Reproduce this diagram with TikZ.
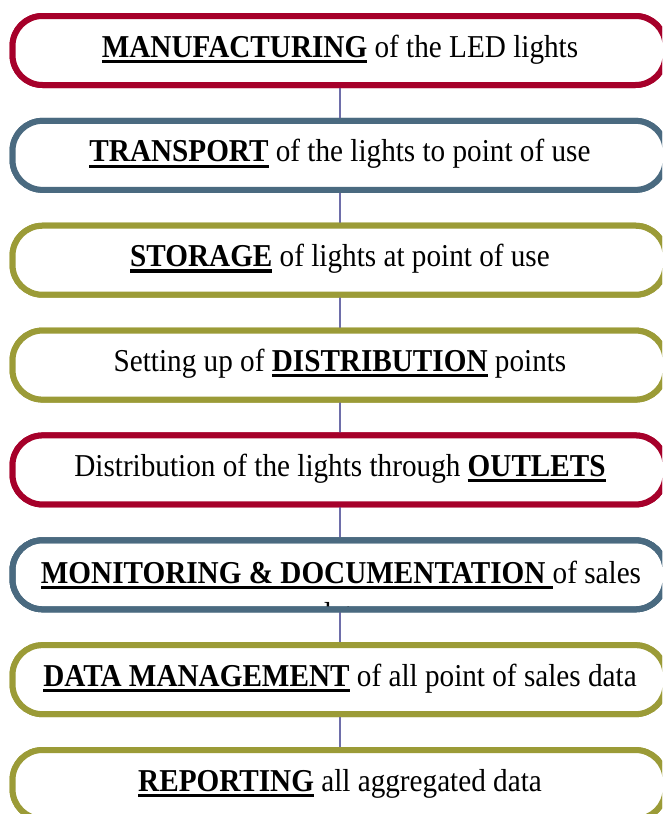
\documentclass[tikz,border=0pt]{standalone}
\usepackage{fontspec}
\usepackage{graphicx}
\setmainfont{Liberation Serif}
\usetikzlibrary{calc}

\definecolor{crimson}{HTML}{A6002A}
\definecolor{slate}{HTML}{4A6A80}
\definecolor{olive}{HTML}{9B9B37}
\definecolor{linkc}{HTML}{6E6EAA}

% text slightly taller than wide
\newcommand\tx[1]{\scalebox{1}[1.09]{#1}}
% bold word with a heavy underline
\newcommand\ubf[1]{\setbox0=\hbox{\bfseries #1}\rlap{\rule[-5.3pt]{\wd0}{2.8pt}}\box0\relax}

\tikzset{
  stage/.style={draw=#1, line width=6pt, fill=white, rounded corners=30pt,
    minimum width=653pt, minimum height=69pt, inner sep=0pt, outer sep=0pt},
  label/.style={anchor=base, inner sep=0pt, font=\fontsize{29.2}{34}\selectfont},
  link/.style={draw=linkc, line width=2pt}
}

\begin{document}
\begin{tikzpicture}[x=1pt,y=-1pt]
\useasboundingbox (0,0) rectangle (662,814);
\clip (0,0) rectangle (662,814);

% stage outlines (line centres 70pt apart vertically)
\foreach \i/\c in {1/crimson,2/slate,3/olive,4/olive,5/crimson,6/slate,7/olive,8/olive}{
  \node[stage=\c] (b\i) at (339, {50.5+104.86*(\i-1)}) {};
}

% connectors between consecutive stages
\foreach \i [evaluate=\i as \j using int(\i+1)] in {1,...,7}{
  \path[link] (340,0 |- b\i.south) -- (340,0 |- b\j.north);
}

% redraw boxes over the connector ends
\foreach \i/\c in {1/crimson,2/slate,3/olive,4/olive,5/crimson,6/slate,7/olive,8/olive}{
  \node[stage=\c] at (b\i) {};
}

\node[label] (t1) at (340, 57) {\tx{\ubf{MANUFACTURING} of the LED lights}};
\node[label] (t2) at (340, 161.86) {\tx{\ubf{TRANSPORT} of the lights to point of use}};
\node[label] (t3) at (340, 266.72) {\tx{\ubf{STORAGE} of lights at point of use}};
\node[label] (t4) at (340, 371.58) {\tx{Setting up of \ubf{DISTRIBUTION} points}};
\node[label] (t5) at (340, 476.44) {\tx{Distribution of the lights through \ubf{OUTLETS}}};
\node[label] (t6) at (341, 583.5) {\tx{\ubf{MONITORING \& DOCUMENTATION }of sales}};
\begin{scope}
  \clip[rounded corners=25pt] ($(b6.north west)+(3,3)$) rectangle ($(b6.south east)+(-3,-3)$);
  \node[label] (t6b) at (341, 624) {\tx{data}};
\end{scope}
\node[stage=slate, fill=none] at (b6) {};
\node[label] (t7) at (340, 686.16) {\tx{\ubf{DATA MANAGEMENT} of all point of sales data}};
\node[label] (t8) at (340, 791) {\tx{\ubf{REPORTING} all aggregated data}};
\end{tikzpicture}
\end{document}
